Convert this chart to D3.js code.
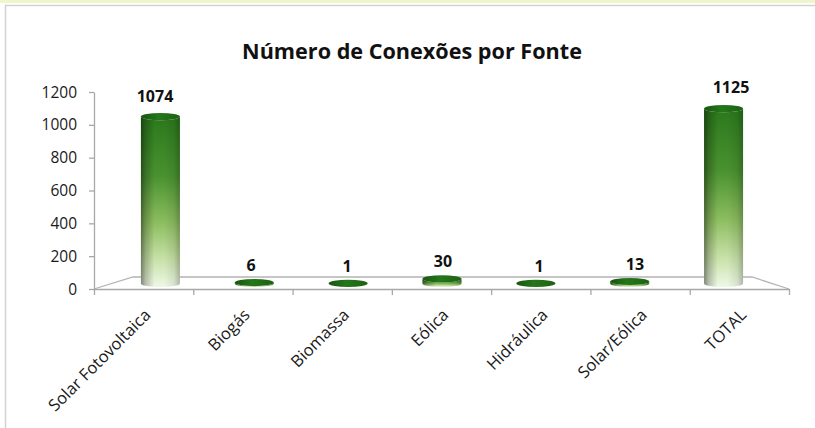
<!DOCTYPE html>
<html>
<head>
<meta charset="utf-8">
<script src="https://cdn.jsdelivr.net/npm/d3@7"></script>
<style>
  body { margin: 0; background: #fff; }
  text { font-family: "Open Sans", "Noto Sans", sans-serif; }
</style>
</head>
<body>
<div id="chart"></div>
<script>
var svgWidth = 815;
var svgHeight = 428;

// chart data
var categories = ["Solar Fotovoltaica", "Biogás", "Biomassa", "Eólica", "Hidráulica", "Solar/Eólica", "TOTAL"];
var values = [1074, 6, 1, 30, 1, 13, 1125];
var yTicks = [0, 200, 400, 600, 800, 1000, 1200];
var title = "Número de Conexões por Fonte";

var data = categories.map(function(c, i) { return { name: c, value: values[i] }; });

var svg = d3.select("#chart")
  .append("svg")
  .attr("width", svgWidth)
  .attr("height", svgHeight);

// gradients for the cylinders
var defs = svg.append("defs");
var vGrad = defs.append("linearGradient")
  .attr("id", "barV").attr("x1", 0).attr("y1", 0).attr("x2", 0).attr("y2", 1);
[["0%", "#2a781c"], ["35%", "#4a9230"], ["62%", "#8cbd5f"], ["83%", "#c6e0a6"], ["100%", "#eef8e6"]]
  .forEach(function(s) { vGrad.append("stop").attr("offset", s[0]).attr("stop-color", s[1]); });

var hGrad = defs.append("linearGradient")
  .attr("id", "barH").attr("x1", 0).attr("y1", 0).attr("x2", 1).attr("y2", 0);
[["0%", 0.45], ["12%", 0.22], ["35%", 0.0], ["60%", 0.0], ["85%", 0.08], ["100%", 0.25]]
  .forEach(function(s) {
    hGrad.append("stop").attr("offset", s[0]).attr("stop-color", "#000").attr("stop-opacity", s[1]);
  });

var topGrad = defs.append("linearGradient")
  .attr("id", "barTop").attr("x1", 0).attr("y1", 0).attr("x2", 1).attr("y2", 0);
[["0%", "#17560f"], ["45%", "#26761b"], ["100%", "#1c6214"]]
  .forEach(function(s) { topGrad.append("stop").attr("offset", s[0]).attr("stop-color", s[1]); });

// page frame
svg.append("rect")
  .attr("x", 0).attr("y", 0).attr("width", svgWidth).attr("height", 3)
  .attr("fill", "#eef6cc");
svg.append("rect")
  .attr("x", 5.5).attr("y", 5.5).attr("width", 900).attr("height", 500)
  .attr("fill", "none").attr("stroke", "#d2d2d2").attr("stroke-width", 1.5);

// Scales
var xFront = d3.scaleLinear().domain([0, categories.length]).range([94, 789]);
var xBand = d3.scaleBand().domain(categories).range([94, 789]);
var xMid = d3.scaleBand().domain(categories).range([113.5, 770.5]);
var xLabel = d3.scaleBand().domain(categories).range([107, 779]);

var yAxisScale = d3.scaleLinear().domain([0, 1200]).range([289, 92]);
var yBar = d3.scaleLinear().domain([0, 1200]).range([283.5, 97]);
var yLabel = d3.scaleLinear().domain([0, 1200]).range([272, 81.5]);

// floor
svg.append("path")
  .attr("d", "M94,289 L133,277 L752,277 L789,289")
  .attr("fill", "none")
  .attr("stroke", "#b4b4b4")
  .attr("stroke-width", 1.3);

// axes
var leftAxis = d3.axisLeft(yAxisScale).tickValues(yTicks).tickSize(5).tickSizeOuter(0).tickFormat("");
var yG = svg.append("g").attr("transform", "translate(94,0)").call(leftAxis);

var bottomAxis = d3.axisBottom(xFront).ticks(categories.length).tickSize(6).tickSizeOuter(0).tickFormat("");
var xG = svg.append("g").attr("transform", "translate(0,289)").call(bottomAxis);

[yG, xG].forEach(function(g) {
  g.selectAll("path, line").attr("stroke", "#a8a8a8").attr("stroke-width", 1.3);
});

// y tick labels
svg.append("g").selectAll("text")
  .data(yTicks)
  .enter()
  .append("text")
  .attr("x", 77)
  .attr("y", d => yAxisScale(d))
  .attr("dy", "0.36em")
  .attr("text-anchor", "end")
  .attr("font-size", "15.5px")
  .attr("fill", "#1a1a1a")
  .text(d => d);

// x labels
svg.append("g").selectAll("text")
  .data(categories)
  .enter()
  .append("text")
  .attr("transform", d => `translate(${xBand(d) + xBand.bandwidth() / 2 + 8}, 316) rotate(-45)`)
  .attr("text-anchor", "end")
  .attr("font-size", "16.5px")
  .attr("fill", "#1a1a1a")
  .text(d => d);

// cylinders
var rx = 19.5, ry = 3.6;
var bars = svg.append("g").selectAll("g")
  .data(data)
  .enter()
  .append("g");

function bodyPath(d) {
  var cx = xMid(d.name) + xMid.bandwidth() / 2;
  var yt = yBar(d.value), yb = yBar(0);
  return `M${cx - rx},${yt} L${cx - rx},${yb} A${rx},${ry} 0 0 0 ${cx + rx},${yb} L${cx + rx},${yt} A${rx},${ry} 0 0 1 ${cx - rx},${yt} Z`;
}

bars.append("path").attr("d", bodyPath).attr("fill", "url(#barV)");
bars.append("path").attr("d", bodyPath).attr("fill", "url(#barH)");
bars.append("ellipse")
  .attr("cx", d => xMid(d.name) + xMid.bandwidth() / 2)
  .attr("cy", d => yBar(d.value))
  .attr("rx", rx)
  .attr("ry", ry)
  .attr("fill", "url(#barTop)");

// value labels
svg.append("g").selectAll("text")
  .data(data)
  .enter()
  .append("text")
  .attr("x", d => xLabel(d.name) + xLabel.bandwidth() / 2)
  .attr("y", d => yLabel(d.value))
  .attr("text-anchor", "middle")
  .attr("font-size", "16px")
  .attr("font-weight", "bold")
  .attr("fill", "#111")
  .text(d => d.value);

// title, fitted to the width seen in the original
var titleText = svg.append("text")
  .attr("x", 412)
  .attr("y", 59)
  .attr("text-anchor", "middle")
  .attr("font-size", "22px")
  .attr("font-weight", "bold")
  .attr("fill", "#111")
  .text(title);
var tw = titleText.node().getComputedTextLength();
titleText.attr("font-size", (22 * 340 / tw).toFixed(2) + "px");
</script>
</body>
</html>
